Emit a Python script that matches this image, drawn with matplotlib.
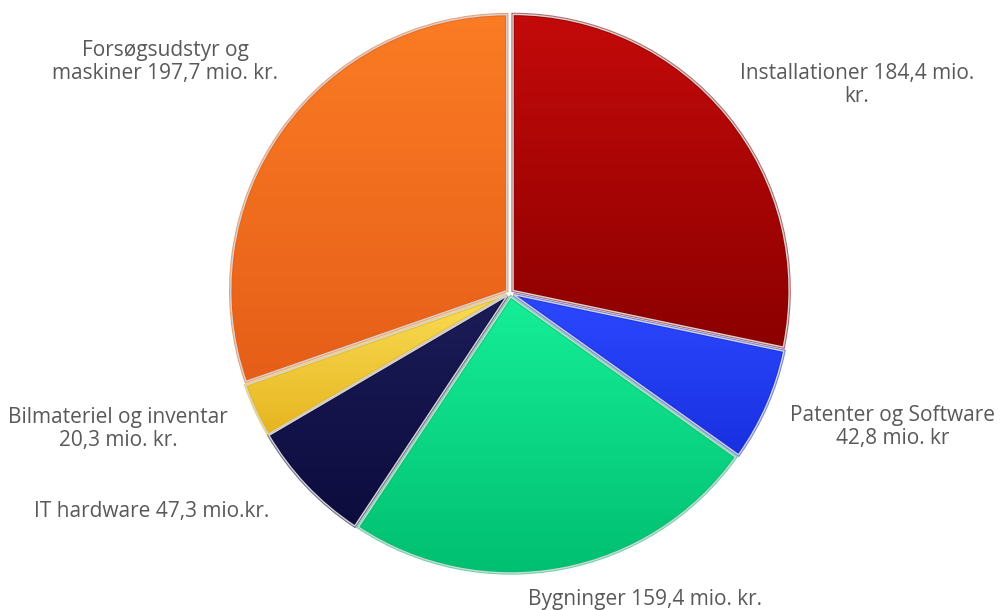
import numpy as np
import matplotlib
matplotlib.use("Agg")
import matplotlib.pyplot as plt
from matplotlib.colors import LinearSegmentedColormap
from matplotlib.patches import PathPatch

# data (mio. kr.), clockwise from 12 o'clock
categories = ["Installationer", "Patenter og Software", "Bygninger",
              "IT hardware", "Bilmateriel og inventar", "Forsøgsudstyr og maskiner"]
values = [184.4, 42.8, 159.4, 47.3, 20.3, 197.7]
labels = ["Installationer 184,4 mio.\nkr.",
          "Patenter og Software\n42,8 mio. kr",
          "Bygninger 159,4 mio. kr.",
          "IT hardware 47,3 mio.kr.",
          "Bilmateriel og inventar\n20,3 mio. kr.",
          "Forsøgsudstyr og\nmaskiner 197,7 mio. kr."]

# gradient colours per slice (top, bottom)
shades = [("#c40a0a", "#8c0000"),
          ("#2c48ff", "#1830e0"),
          ("#16ee98", "#00bf70"),
          ("#1c1c58", "#0c0c3e"),
          ("#fadd55", "#e6b520"),
          ("#fb7c24", "#e65e18")]

# label positions in pixels (x, y from top)
label_pos = [(857, 85), (893, 427), (645, 600), (152, 512), (118, 429), (165, 62)]

W, H = 1001, 610
cx, cy, R = 510, H - 293, 276

fig = plt.figure(figsize=(W / 100, H / 100), dpi=100)
ax = fig.add_axes([0, 0, 1, 1])

wedges, _ = ax.pie(values, startangle=90, counterclock=False, radius=R,
                   center=(cx, cy), explode=[4] * len(values),
                   colors=[s[1] for s in shades],
                   wedgeprops=dict(edgecolor="none", linewidth=0))

grad = np.linspace(0, 1, 256).reshape(-1, 1)
for w, (top, bot) in zip(wedges, shades):
    path = w.get_path().transformed(w.get_patch_transform())
    bb = path.get_extents()
    cmap = LinearSegmentedColormap.from_list("g", [top, bot])
    im = ax.imshow(grad, cmap=cmap, aspect="auto", origin="upper",
                   extent=(bb.x0, bb.x1, bb.y0, bb.y1), zorder=w.get_zorder() + 0.1,
                   interpolation="bilinear")
    im.set_clip_path(w)
    # soft darker rim, then light separator
    ax.add_patch(PathPatch(path, fill=False, edgecolor=bot, linewidth=2.5,
                           alpha=0.6, zorder=w.get_zorder() + 0.2))
    ax.add_patch(PathPatch(path, fill=False, edgecolor="#d4d4d4",
                           linewidth=1.0, zorder=w.get_zorder() + 0.3))

for txt, (x, y) in zip(labels, label_pos):
    ax.text(x, H - y, txt, ha="center", va="center", fontsize=15,
            color="#595959", family="Open Sans", linespacing=1.12)

ax.set_xlim(0, W)
ax.set_ylim(0, H)
ax.set_aspect("equal")
ax.axis("off")

fig.savefig("out.png", dpi=100)
